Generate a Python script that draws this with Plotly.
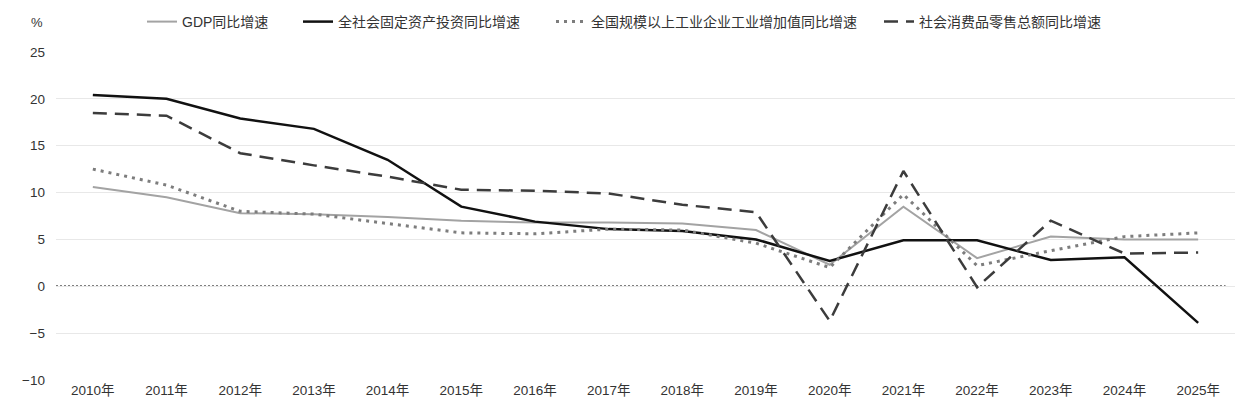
import plotly.graph_objects as go

years = ["2010年", "2011年", "2012年", "2013年", "2014年", "2015年", "2016年", "2017年",
         "2018年", "2019年", "2020年", "2021年", "2022年", "2023年", "2024年", "2025年"]

gdp = [10.6, 9.5, 7.8, 7.7, 7.4, 7.0, 6.8, 6.8, 6.7, 6.0, 2.3, 8.5, 3.0, 5.3, 5.0, 5.0]
investment = [20.4, 20.0, 17.9, 16.8, 13.5, 8.5, 6.9, 6.1, 5.9, 5.0, 2.7, 4.9, 4.9, 2.8, 3.1, -3.9]
industry = [12.5, 10.8, 8.0, 7.7, 6.7, 5.7, 5.6, 6.1, 6.0, 4.6, 2.0, 9.8, 2.2, 3.8, 5.3, 5.7]
retail = [18.5, 18.2, 14.2, 12.9, 11.7, 10.3, 10.2, 9.9, 8.7, 7.9, -3.7, 12.3, -0.1, 7.0, 3.5, 3.6]

names = ["GDP同比增速", "全社会固定资产投资同比增速",
         "全国规模以上工业企业工业增加值同比增速", "社会消费品零售总额同比增速"]

FONT = "Liberation Sans, Arial, Noto Sans CJK SC, sans-serif"
W, H = 1259, 418

fig = go.Figure()
fig.add_trace(go.Scatter(x=years, y=gdp, name=names[0], mode="lines", legend="legend",
                         line=dict(color="#a3a3a3", width=2)))
fig.add_trace(go.Scatter(x=years, y=investment, name=names[1], mode="lines", legend="legend2",
                         line=dict(color="#111111", width=2.5)))
fig.add_trace(go.Scatter(x=years, y=industry, name=names[2], mode="lines", legend="legend3",
                         line=dict(color="#7d7d7d", width=3, dash="3px,5px")))
fig.add_trace(go.Scatter(x=years, y=retail, name=names[3], mode="lines", legend="legend4",
                         line=dict(color="#3c3c3c", width=2.5, dash="14px,8px")))

# dotted zero line
fig.add_shape(type="line", xref="paper", yref="y", x0=0, x1=0.992, y0=0, y1=0,
              line=dict(color="#000000", width=1.5, dash="2px,2px"), layer="below")

fig.add_annotation(text="%", xref="paper", yref="paper", x=-0.009, y=1.09,
                   xanchor="right", yanchor="middle", showarrow=False,
                   font=dict(size=13, color="#333333"))


def leg(px):
    return dict(orientation="h", x=px / W, xref="container", y=1 - 14 / H, yref="container",
                xanchor="left", yanchor="middle", itemwidth=30,
                font=dict(size=14, color="#333333"), bgcolor="rgba(0,0,0,0)")


fig.update_layout(
    width=W, height=H,
    margin=dict(l=48, r=32, t=44, b=46, autoexpand=False),
    paper_bgcolor="white", plot_bgcolor="white",
    font=dict(family=FONT, size=13, color="#333333"),
    showlegend=True,
    legend=leg(134), legend2=leg(290), legend3=leg(543), legend4=leg(871),
    xaxis=dict(showgrid=False, showline=False, ticks="", tickfont=dict(size=13.5),
               range=[-0.5, 15.5]),
    yaxis=dict(range=[-10, 25], dtick=5, showgrid=True, gridcolor="#e8e8e8",
               gridwidth=1, zeroline=False, showline=False, ticks="",
               tickfont=dict(size=13.5), ticklabelstandoff=10),
)

fig.write_html("out.html")
